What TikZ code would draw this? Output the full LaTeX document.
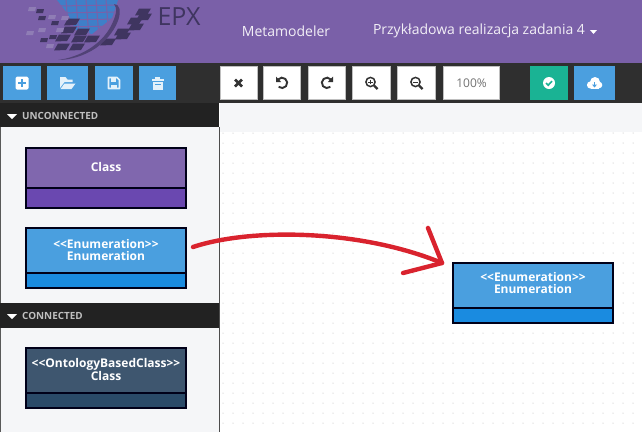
\documentclass[tikz,border=0pt]{standalone}
\usepackage{fontspec}
\setmainfont{Open Sans}
\definecolor{navpurple}{HTML}{7A60A8}
\definecolor{barblack}{HTML}{2F2F2F}
\definecolor{headblack}{HTML}{222222}
\definecolor{panelgray}{HTML}{F5F6F8}
\definecolor{btnblue}{HTML}{4B9FDF}
\definecolor{btngreen}{HTML}{1AB394}
\definecolor{classtop}{HTML}{8067AE}
\definecolor{classbot}{HTML}{6A48B0}
\definecolor{enumtop}{HTML}{4A9FDF}
\definecolor{enumbot}{HTML}{1A8BE0}
\definecolor{ontotop}{HTML}{3E566F}
\definecolor{ontobot}{HTML}{2A4A68}
\definecolor{arrowred}{HTML}{D9232E}
\definecolor{logodark}{HTML}{3F3560}
\definecolor{logolight}{HTML}{8F7DB5}
\definecolor{logoblue}{HTML}{3F7FC8}
\begin{document}
\begin{tikzpicture}[x=1pt,y=-1pt,
	blue btn/.style={rectangle,fill=btnblue,minimum height=34pt,inner sep=0pt},
	white btn/.style={rectangle,fill=white,draw=black!25,line width=0.6pt,minimum height=33pt,inner sep=0pt},
	nav text/.style={text=white!90!navpurple,font=\fontsize{14}{16}\selectfont},
	head text/.style={anchor=west,text=black!25,inner sep=0pt,font=\fontsize{9.9}{11}\selectfont\bfseries},
	box top/.style={rectangle,draw=black!90!blue,line width=2.4pt,minimum width=159.6pt,anchor=north west,inner sep=0pt,outer sep=0pt,align=center,text=white,font=\fontsize{12}{12.5}\selectfont\bfseries},
	box bot/.style={rectangle,draw=black!90!blue,line width=2.4pt,minimum width=159.6pt,anchor=north west,inner sep=0pt,outer sep=0pt},
	dark icon/.style={draw=black!80,line width=1.9pt},
	red line/.style={draw=arrowred,line width=4.4pt,line cap=round,line join=round}
	]
	\useasboundingbox (0,0) rectangle (642,432);
	
	% backgrounds
	\fill[white] (0,0) rectangle (642,432);
	\fill[navpurple] (0,0) rectangle (642,63);
	\fill[barblack] (0,63) rectangle (642,103);
	\fill[panelgray] (0,103) rectangle (219,432);
	\fill[panelgray] (220,103) rectangle (642,132);
	\fill[headblack] (0,103) rectangle (219,127);
	\fill[headblack] (0,303) rectangle (219,328);
	\draw[black!65,line width=1pt] (0.5,127) -- (0.5,303) (0.5,328) -- (0.5,432);
	\draw[black!70,line width=1.2pt] (219.5,127) -- (219.5,432);
	
	% canvas dots
	\foreach \row in {0,...,29} {
		\foreach \col in {0,...,41} {
			\fill[black!30] ({223+10*\col},{133+10*\row}) circle (0.5pt);
		}
	}
	
	% logo
	\fill[logoblue] (57,0) -- (118,0) -- (112,18) -- (92,34) -- (76,30) -- (68,14) -- cycle;
	\foreach \x in {66,76,86,96,106} {
		\draw[navpurple,line width=1pt] (\x,0) -- ({\x+3},36);
	}
	\foreach \y in {6,13,20,27} {
		\draw[navpurple,line width=1pt] (56,\y) -- (120,{\y-1});
	}
	\foreach \x/\y in {72/22,69/30,82/32,63/38,79/39,62/47,77/47,92/39,143/12,144/17,135/21,136/27,122/32,123/36,108/42} {
		\fill[logodark] ({\x-8},{\y+3.5}) -- ({\x+4},{\y+3}) -- ({\x+8},{\y-3.5}) -- ({\x-4},{\y-3.5}) -- cycle;
	}
	\foreach \x/\y in {40/11,42/18,55/23,53/37,44/40} {
		\fill[logodark] ({\x-4},{\y+2}) -- ({\x+3},{\y+2}) -- ({\x+4},{\y-2}) -- ({\x-3},{\y-2}) -- cycle;
	}
	\foreach \x/\y in {32/9,52/17,65/18,30/33,42/30,60/30,50/46} {
		\fill[logolight] ({\x-4},{\y+2}) -- ({\x+3},{\y+2}) -- ({\x+4},{\y-2}) -- ({\x-3},{\y-2}) -- cycle;
	}
	\fill[logodark!70!navpurple] (114,4) .. controls (125,4) and (121,30) .. (96,48) .. controls (84,56) and (70,60) .. (58,60) .. controls (80,57) and (101,45) .. (111,26) .. controls (116,16) and (118,8) .. (114,4) -- cycle;
	\node[text=logodark,inner sep=0pt,font=\fontsize{25}{28}\selectfont] (logoText) at (179,17) {EPX};
	
	% navigation
	\node[nav text,inner sep=0pt] (navMeta) at (286,31) {Metamodeler};
	\node[nav text,inner sep=0pt] (navTask) at (479,31) {Przykładowa realizacja zadania 4};
	\fill[white] (590,30) -- (597,30) -- (593.5,34) -- cycle;
	
	% toolbar left
	\node[blue btn,minimum width=38pt] (btnNew) at (22,83) {};
	\node[blue btn,minimum width=41pt] (btnOpen) at (67.5,83) {};
	\node[blue btn,minimum width=38pt] (btnSave) at (114,83) {};
	\node[blue btn,minimum width=37pt] (btnTrash) at (157.5,83) {};
	
	\begin{scope}[shift={(btnNew)}]
		\fill[white,rounded corners=1.5pt] (-6.5,-6.5) rectangle (6.5,6.5);
		\draw[btnblue,line width=2pt] (-4,0) -- (4,0) (0,-4) -- (0,4);
	\end{scope}
	\begin{scope}[shift={(btnOpen)}]
		\fill[white!85!btnblue] (-7.5,5) -- (-7.5,-6) -- (-2,-6) -- (0,-3.5) -- (5,-3.5) -- (5,-1) -- (-3,-1) -- cycle;
		\fill[white!85!btnblue] (-7,6) -- (-3,0.5) -- (8,0.5) -- (4,6) -- cycle;
	\end{scope}
	\begin{scope}[shift={(btnSave)}]
		\draw[white!85!btnblue,line width=1.6pt,line join=round] (-5.5,-5.5) -- (3,-5.5) -- (5.5,-3) -- (5.5,5.5) -- (-5.5,5.5) -- cycle;
		\fill[white!85!btnblue] (-3,-5) rectangle (2,-1.5);
		\fill[white!85!btnblue] (-3,1.5) rectangle (3,5);
	\end{scope}
	\begin{scope}[shift={(btnTrash)}]
		\fill[white!85!btnblue] (-6,-4.5) rectangle (6,-2.5);
		\fill[white!85!btnblue] (-2.5,-6.5) rectangle (2.5,-4);
		\fill[white!85!btnblue] (-5,-1.5) rectangle (5,7);
		\fill[btnblue] (-3,1) rectangle (3,2.2);
	\end{scope}
	
	% toolbar middle
	\node[white btn,minimum width=37pt] (btnClose) at (238.5,83) {};
	\node[white btn,minimum width=37pt] (btnUndo) at (282,83) {};
	\node[white btn,minimum width=37pt] (btnRedo) at (327,83) {};
	\node[white btn,minimum width=38pt] (btnZoomIn) at (371.5,83) {};
	\node[white btn,minimum width=38pt] (btnZoomOut) at (416.5,83) {};
	\node[white btn,minimum width=56pt,text=black!55,font=\fontsize{12}{14}\selectfont] (btnScale) at (471.5,83) {100\%};
	
	\begin{scope}[shift={(btnClose)}]
		\draw[black!80,line width=2.6pt] (-3.5,-3.5) -- (3.5,3.5) (-3.5,3.5) -- (3.5,-3.5);
	\end{scope}
	\begin{scope}[shift={(btnUndo)}]
		\draw[dark icon] (-4,-3.5) arc[start angle=140,delta angle=-270,radius=5.2pt];
		\fill[black!80] (-6,-6.5) -- (-6,-1) -- (-0.8,-1) -- cycle;
	\end{scope}
	\begin{scope}[shift={(btnRedo)}]
		\draw[dark icon] (4,-3.5) arc[start angle=40,delta angle=270,radius=5.2pt];
		\fill[black!80] (6,-6.5) -- (6,-1) -- (0.8,-1) -- cycle;
	\end{scope}
	\begin{scope}[shift={(btnZoomIn)}]
		\draw[black!80,line width=1.5pt] (-1,-1) circle (4.6pt);
		\draw[black!80,line width=2.2pt] (2.6,2.6) -- (6,6);
		\draw[black!80,line width=1pt] (-3.2,-1) -- (1.2,-1) (-1,-3.2) -- (-1,1.2);
	\end{scope}
	\begin{scope}[shift={(btnZoomOut)}]
		\draw[black!80,line width=1.5pt] (-1,-1) circle (4.6pt);
		\draw[black!80,line width=2.2pt] (2.6,2.6) -- (6,6);
		\draw[black!80,line width=1pt] (-3.2,-1) -- (1.2,-1);
	\end{scope}
	
	% toolbar right
	\node[blue btn,fill=btngreen,minimum width=38pt] (btnCheck) at (549,83) {};
	\node[blue btn,minimum width=41pt] (btnCloud) at (594.5,83) {};
	
	\begin{scope}[shift={(btnCheck)}]
		\fill[white] (0,0) circle (6pt);
		\draw[btngreen,line width=1.6pt] (-3,0) -- (-0.8,2.2) -- (3,-1.8);
	\end{scope}
	\begin{scope}[shift={(btnCloud)}]
		\fill[white] (-4,2) circle (3.6pt) (0.5,-1) circle (5pt) (4.5,2) circle (3.3pt);
		\fill[white] (-4,1) rectangle (4.5,5.5);
		\draw[btnblue,line width=1.3pt] (0,-1) -- (0,3);
		\fill[btnblue] (-2.5,1.5) -- (2.5,1.5) -- (0,4.5) -- cycle;
	\end{scope}
	
	% side panel headers
	\fill[white] (7,114) -- (17,114) -- (12,119) -- cycle;
	\node[head text] (headUnconn) at (22,115.5) {UNCONNECTED};
	\fill[white] (7,314) -- (17,314) -- (12,319) -- cycle;
	\node[head text] (headConn) at (22,315.5) {CONNECTED};
	
	% class boxes
	\node[box top,fill=classtop,minimum height=40pt] (classTop) at (26.2,148.2) {Class\\[-10.5pt]};
	\node[box bot,fill=classbot,minimum height=20pt] (classBot) at (classTop.south west) {};
	
	\node[box top,fill=enumtop,minimum height=45pt] (enumTop) at (26.2,228.2) {<{}<Enumeration>{}>\\Enumeration\\[-11pt]};
	\node[box bot,fill=enumbot,minimum height=14.5pt] (enumBot) at (enumTop.south west) {};
	
	\node[box top,fill=ontotop,minimum height=45pt] (ontoTop) at (26.2,348.2) {<{}<OntologyBasedClass>{}>\\Class\\[-10pt]};
	\node[box bot,fill=ontobot,minimum height=14.5pt] (ontoBot) at (ontoTop.south west) {};
	
	\node[box top,fill=enumtop,minimum height=45pt] (dropTop) at (453.2,263.2) {<{}<Enumeration>{}>\\Enumeration\\[-7pt]};
	\node[box bot,fill=enumbot,minimum height=14.5pt] (dropBot) at (dropTop.south west) {};
	
	% hand drawn arrow
	\coordinate (arrowStart) at (193,247);
	\coordinate (arrowTip) at (442,263);
	\coordinate (arrowUp) at (428,228);
	\coordinate (arrowDown) at (403,273);
	\draw[red line] (arrowStart) .. controls (250,228) and (360,229) .. (arrowTip);
	\draw[red line] (arrowUp) -- (arrowTip) -- (arrowDown);
\end{tikzpicture}
\end{document}
